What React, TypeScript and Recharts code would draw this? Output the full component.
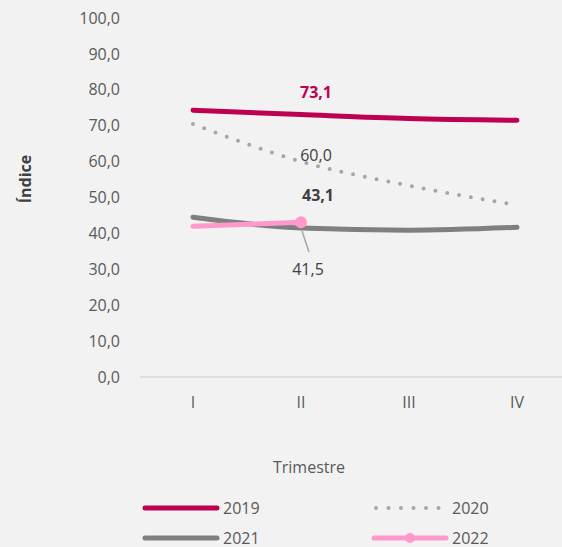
import { LineChart, Line, XAxis, YAxis, LabelList } from "recharts"

const quarters = ["I", "II", "III", "IV"]
const s2019 = [74.3, 73.1, 72.0, 71.5]
const s2020 = [70.5, 60.0, 53.3, 47.9]
const s2021 = [44.5, 41.5, 40.9, 41.7]
const s2022 = [42.0, 43.1, null, null]
const yTicks = [0, 10, 20, 30, 40, 50, 60, 70, 80, 90, 100]

const chartData = quarters.map((q, i) => ({
  name: q,
  y2019: s2019[i],
  y2020: s2020[i],
  y2021: s2021[i],
  y2022: s2022[i],
}))

const FONT = "'Open Sans', 'Noto Sans', sans-serif"
const CRIMSON = "#BE0050"
const DOTGREY = "#A6A6A6"
const GREY = "#7F7F7F"
const PINK = "#FF99CC"

const fmt = (v: number) => v.toFixed(1).replace(".", ",")

function label2019(p: any) {
  if (p.index !== 1) return null
  return (
    <text x={p.x + 15} y={p.y - 23} textAnchor="middle" dominantBaseline="central"
      fontFamily={FONT} fontSize={16} fontWeight={700} fill={CRIMSON}>
      {fmt(p.value)}
    </text>
  )
}

function label2020(p: any) {
  if (p.index !== 1) return null
  return (
    <text x={p.x + 15} y={p.y - 7} textAnchor="middle" dominantBaseline="central"
      fontFamily={FONT} fontSize={16} fill="#404040">
      {fmt(p.value)}
    </text>
  )
}

function label2021(p: any) {
  if (p.index !== 1) return null
  return (
    <g>
      <line x1={p.x + 1} y1={p.y + 3} x2={p.x + 8} y2={p.y + 24} stroke="#A6A6A6" strokeWidth={1.5} />
      <text x={p.x + 7} y={p.y + 41} textAnchor="middle" dominantBaseline="central"
        fontFamily={FONT} fontSize={16} fill="#404040">
        {fmt(p.value)}
      </text>
    </g>
  )
}

function label2022(p: any) {
  if (p.index !== 1) return null
  return (
    <text x={p.x + 17} y={p.y - 27} textAnchor="middle" dominantBaseline="central"
      fontFamily={FONT} fontSize={16} fontWeight={700} fill="#404040">
      {fmt(p.value)}
    </text>
  )
}

function dot2022(p: any) {
  if (p.index !== 1) return <g key={p.index} />
  return <circle key={p.index} cx={p.cx} cy={p.cy} r={6} fill={PINK} />
}

function yLabel() {
  return (
    <text x={25} y={179} transform="rotate(-90 25 179)" textAnchor="middle"
      dominantBaseline="central" fontFamily={FONT} fontSize={16} fontWeight={700} fill="#404040">
      Índice
    </text>
  )
}

function ChartLegend() {
  const item = (x: number, y: number, text: string, kind: string) => (
    <g key={text}>
      {kind === "dots" ? (
        <line x1={x + 2} y1={y} x2={x + 66} y2={y} stroke={DOTGREY} strokeWidth={4}
          strokeDasharray="0 12.5" strokeLinecap="round" />
      ) : (
        <line x1={x} y1={y} x2={x + 72} y2={y}
          stroke={kind === "crimson" ? CRIMSON : kind === "grey" ? GREY : PINK}
          strokeWidth={5} strokeLinecap="round" />
      )}
      {kind === "pink" && <circle cx={x + 36} cy={y} r={5} fill={PINK} />}
      <text x={x + 78} y={y} dominantBaseline="central" fontFamily={FONT} fontSize={16} fill="#595959">
        {text}
      </text>
    </g>
  )
  return (
    <svg width={562} height={60} style={{ position: "absolute", left: 0, top: 487 }}>
      {item(145, 21, "2019", "crimson")}
      {item(374, 21, "2020", "dots")}
      {item(145, 51, "2021", "grey")}
      {item(374, 51, "2022", "pink")}
    </svg>
  )
}

export default function App() {
  return (
    <div style={{ position: "relative", width: 562, height: 547, background: "#F2F2F2", overflow: "hidden" }}>
      <style>{"body{margin:0}"}</style>
      <LineChart width={562} height={547} data={chartData}
        margin={{ top: 18, right: 0, bottom: 0, left: 0 }}>
        <XAxis dataKey="name" padding={{ left: 53, right: 45 }} height={170}
          tickLine={false} axisLine={{ stroke: "#D9D9D9", strokeWidth: 1.5 }}
          tick={{ fontSize: 16, fill: "#595959", fontFamily: FONT }} tickMargin={14}
          label={{ value: "Trimestre", position: "insideBottom", offset: 74, fontSize: 16, fill: "#595959", fontFamily: FONT, dx: -42 }} />
        <YAxis width={140} domain={[0, 100]} ticks={yTicks} tickFormatter={fmt}
          axisLine={false} tickLine={false} tickMargin={14}
          tick={{ fontSize: 16, fill: "#595959", fontFamily: FONT }}
          label={yLabel} />
        <Line type="monotone" dataKey="y2021" stroke={GREY} strokeWidth={5} strokeLinecap="round"
          dot={false} isAnimationActive={false}>
          <LabelList dataKey="y2021" content={label2021} />
        </Line>
        <Line type="monotone" dataKey="y2020" stroke={DOTGREY} strokeWidth={4} strokeLinecap="round"
          strokeDasharray="0 12" dot={false} isAnimationActive={false}>
          <LabelList dataKey="y2020" content={label2020} />
        </Line>
        <Line type="monotone" dataKey="y2019" stroke={CRIMSON} strokeWidth={5} strokeLinecap="round"
          dot={false} isAnimationActive={false}>
          <LabelList dataKey="y2019" content={label2019} />
        </Line>
        <Line type="monotone" dataKey="y2022" stroke={PINK} strokeWidth={5} strokeLinecap="round"
          dot={dot2022} activeDot={false} isAnimationActive={false} connectNulls={false}>
          <LabelList dataKey="y2022" content={label2022} />
        </Line>
      </LineChart>
      <ChartLegend />
    </div>
  )
}
